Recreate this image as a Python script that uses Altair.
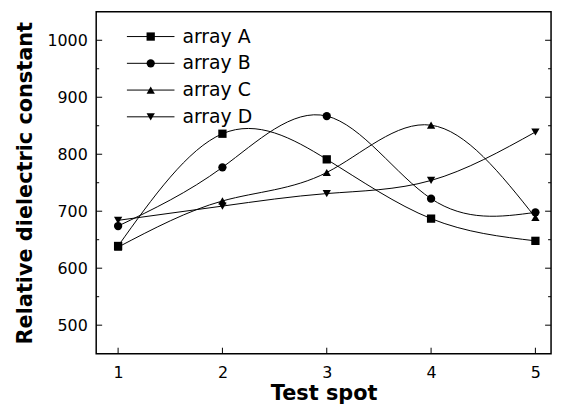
import altair as alt
import pandas as pd

spots = [1, 2, 3, 4, 5]
series_names = ["array A", "array B", "array C", "array D"]
array_a = [639, 836, 791, 687, 648]
array_b = [674, 777, 867, 722, 698]
array_c = [637, 718, 768, 851, 689]
array_d = [684, 709, 731, 754, 839]
shapes = ["square", "circle", "triangle-up", "triangle-down"]

y_ticks_major = [500, 600, 700, 800, 900, 1000]
y_ticks_minor = [550, 650, 750, 850, 950]
x_ticks = [1, 2, 3, 4, 5]

rows = []
for name, vals in zip(series_names, [array_a, array_b, array_c, array_d]):
    for s, v in zip(spots, vals):
        rows.append({"spot": s, "value": v, "series": name})
df = pd.DataFrame(rows)

W, H = 459, 345
FONT = "DejaVu Sans"

xscale = alt.Scale(domain=[0.79, 5.15], nice=False, zero=False)
yscale = alt.Scale(domain=[450, 1050], nice=False, zero=False)
shape_scale = alt.Scale(domain=series_names, range=shapes)

base = alt.Chart(df)

lines = base.mark_line(interpolate="natural", color="black", strokeWidth=1).encode(
    x=alt.X("spot:Q", scale=xscale,
            axis=alt.Axis(values=x_ticks, title="Test spot", ticks=False, domain=False,
                          grid=False, labelPadding=11, titlePadding=2, format="d")),
    y=alt.Y("value:Q", scale=yscale,
            axis=alt.Axis(values=y_ticks_major, title="Relative dielectric constant",
                          ticks=False, domain=False, grid=False, labelPadding=9,
                          titlePadding=12, format="d")),
    detail="series:N",
)

points = base.mark_point(filled=True, color="black", opacity=1, size=70).encode(
    x=alt.X("spot:Q", scale=xscale),
    y=alt.Y("value:Q", scale=yscale),
    shape=alt.Shape("series:N", scale=shape_scale, legend=None),
)

# inward ticks
ymaj = pd.DataFrame({"v": y_ticks_major})
ymin = pd.DataFrame({"v": y_ticks_minor})
xt = pd.DataFrame({"s": x_ticks})

def ytick(data, x1, x2):
    return alt.Chart(data).mark_rule(color="black", strokeWidth=1).encode(
        y=alt.Y("v:Q", scale=yscale), x=alt.value(x1), x2=alt.value(x2))

tick_layers = [
    ytick(ymaj, 0, 6), ytick(ymin, 0, 3),
    ytick(ymaj, W, W - 6), ytick(ymin, W, W - 3),
    alt.Chart(xt).mark_rule(color="black", strokeWidth=1).encode(
        x=alt.X("s:Q", scale=xscale), y=alt.value(H), y2=alt.value(H - 6)),
]

# manual legend
leg = pd.DataFrame({"series": series_names, "idx": list(range(len(series_names)))})
legbase = alt.Chart(leg).transform_calculate(py="25 + 27 * datum.idx")
leg_lines = legbase.mark_rule(color="black", strokeWidth=1).encode(
    y=alt.Y("py:Q", scale=None), x=alt.value(31), x2=alt.value(79))
leg_pts = legbase.mark_point(filled=True, color="black", opacity=1, size=70).encode(
    y=alt.Y("py:Q", scale=None), x=alt.value(55),
    shape=alt.Shape("series:N", scale=shape_scale, legend=None))
leg_text = legbase.mark_text(align="left", baseline="middle", font=FONT,
                             fontSize=19, color="black").encode(
    y=alt.Y("py:Q", scale=None), x=alt.value(87), text="series:N")

chart = alt.layer(lines, points, *tick_layers, leg_lines, leg_pts, leg_text).properties(
    width=W, height=H, background="white",
    padding={"left": 6, "top": 2, "right": 5, "bottom": 2},
).configure_view(stroke="black", strokeWidth=1.5).configure_axis(
    labelFont=FONT, labelFontSize=16, labelColor="black",
    titleFont=FONT, titleFontSize=21, titleFontWeight="bold", titleColor="black",
)

chart.save("out.html", embed_options={"renderer": "svg", "actions": False})
